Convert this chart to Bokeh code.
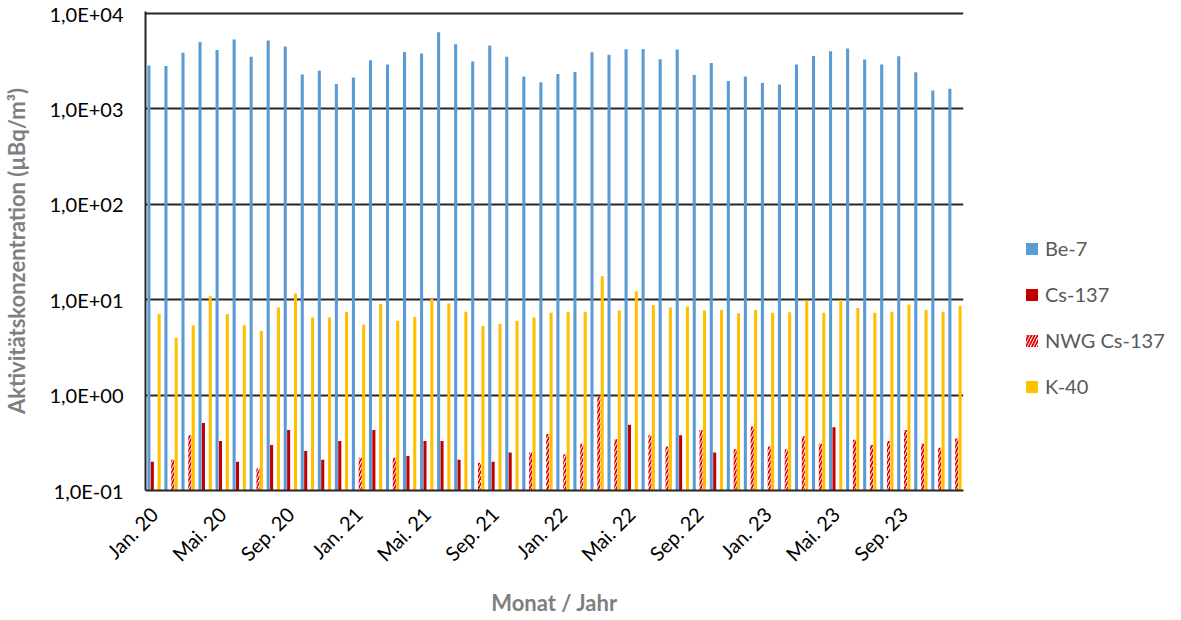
import math
from bokeh.plotting import figure
from bokeh.layouts import row
from bokeh.models import (ColumnDataSource, Legend, LegendItem, FixedTicker,
                          CustomJSTickFormatter, Range1d)
from bokeh.embed import file_html
from bokeh.resources import INLINE

# ---------------- data ----------------
tick_labels = ["Jan. 20", "Mai. 20", "Sep. 20", "Jan. 21", "Mai. 21", "Sep. 21",
               "Jan. 22", "Mai. 22", "Sep. 22", "Jan. 23", "Mai. 23", "Sep. 23"]

be7 = [2860, 2820, 3890, 5030, 4150, 5330, 3530, 5200, 4500, 2290, 2520, 1820,
       2130, 3230, 2930, 3950, 3800, 6370, 4760, 3150, 4610, 3530, 2190, 1900,
       2320, 2440, 3920, 3700, 4220, 4250, 3310, 4190, 2270, 3030, 1960, 2190,
       1870, 1800, 2930, 3590, 4020, 4290, 3290, 2930, 3560, 2420, 1560, 1630]

cs137 = [0.20, None, None, 0.51, 0.33, 0.20, None, 0.30, 0.43, 0.26, 0.21, 0.33,
         None, 0.43, None, 0.23, 0.33, 0.33, 0.21, None, 0.20, 0.25, None, None,
         None, None, None, None, 0.49, None, None, 0.38, None, 0.25, None, None,
         None, None, None, None, 0.46, None, None, None, None, None, None, None]

nwg_cs137 = [None, 0.21, 0.38, None, None, None, 0.17, None, None, None, None, None,
             0.22, None, 0.22, None, None, None, None, 0.195, None, None, 0.25, 0.39,
             0.24, 0.31, 0.97, 0.345, None, 0.38, 0.29, None, 0.43, None, 0.27, 0.47,
             0.29, 0.27, 0.37, 0.31, None, 0.34, 0.30, 0.33, 0.43, 0.31, 0.28, 0.35]

k40 = [7.1, 4.0, 5.4, 10.9, 7.1, 5.4, 4.7, 8.3, 11.6, 6.5, 6.5, 7.5,
       5.5, 9.0, 6.0, 6.6, 10.2, 9.1, 7.5, 5.3, 5.6, 6.0, 6.5, 7.3,
       7.5, 7.5, 17.6, 7.7, 12.3, 8.8, 8.3, 8.5, 7.7, 7.8, 7.2, 7.8,
       7.3, 7.4, 9.8, 7.3, 9.9, 8.2, 7.3, 7.5, 8.9, 7.8, 7.5, 8.6]

series_names = ["Be-7", "Cs-137", "NWG Cs-137", "K-40"]

# ---------------- styles ----------------
FONT = "Lato"
H = 620
W_MAIN = 970
W_LEG = 1165 - W_MAIN
BASE = 0.1
BW = 0.18
styles = [
    dict(fill_color="#5B9BD5", line_color=None),
    dict(fill_color="#C00000", line_color=None),
    dict(fill_color="white", line_color=None, hatch_pattern="/",
         hatch_color="#E00000", hatch_scale=6, hatch_weight=1.8),
    dict(fill_color="#FFC000", line_color=None),
]
offsets = [-0.3, -0.1, 0.1, 0.3]

p = figure(width=W_MAIN, height=H, y_axis_type="log", output_backend="svg",
           toolbar_location=None, x_range=Range1d(-0.5, len(be7) - 0.5),
           y_range=Range1d(0.1, 10500),
           min_border_left=145, min_border_right=W_MAIN - 963, min_border_top=11,
           min_border_bottom=H - 490)
p.outline_line_color = None
p.background_fill_color = "white"


def series(vals, off):
    xs, tops = [], []
    for i, v in enumerate(vals):
        if v is not None:
            xs.append(i + off)
            tops.append(v)
    return ColumnDataSource(dict(x=xs, top=tops, bottom=[BASE] * len(xs)))


for vals, off, st in zip([be7, cs137, nwg_cs137, k40], offsets, styles):
    p.vbar(x="x", top="top", bottom="bottom", width=BW, source=series(vals, off), **st)

# grid
p.xgrid.visible = False
p.ygrid.grid_line_color = "#262626"
p.ygrid.grid_line_width = 2
p.ygrid.level = "underlay"

# y axis
p.yaxis.ticker = FixedTicker(ticks=[0.1, 1, 10, 100, 1000, 10000])
p.yaxis.formatter = CustomJSTickFormatter(code="""
const e = Math.round(Math.log10(tick));
return "1,0E" + (e < 0 ? "-" : "+") + String(Math.abs(e)).padStart(2, "0");
""")
p.yaxis.minor_tick_line_color = None
p.yaxis.major_tick_line_color = None
p.yaxis.axis_line_color = "#262626"
p.yaxis.axis_line_width = 2
p.yaxis.major_label_text_font = FONT
p.yaxis.major_label_text_font_size = "20px"
p.yaxis.major_label_text_color = "#000000"
p.yaxis.major_label_standoff = 16
p.yaxis.axis_label = "Aktivitätskonzentration (µBq/m³)"
p.yaxis.axis_label_text_font = FONT
p.yaxis.axis_label_text_font_size = "22px"
p.yaxis.axis_label_text_font_style = "bold"
p.yaxis.axis_label_text_color = "#7F7F7F"
p.yaxis.axis_label_standoff = 16

# x axis
p.xaxis.ticker = FixedTicker(ticks=list(range(0, len(be7), 4)))
p.xaxis.major_label_overrides = {i * 4: lab for i, lab in enumerate(tick_labels)}
p.xaxis.major_label_orientation = math.pi / 4
p.xaxis.major_tick_line_color = None
p.xaxis.minor_tick_line_color = None
p.xaxis.axis_line_color = "#262626"
p.xaxis.axis_line_width = 2
p.xaxis.major_label_text_font = FONT
p.xaxis.major_label_text_font_size = "20px"
p.xaxis.major_label_text_color = "#000000"
p.xaxis.major_label_standoff = 14
p.xaxis.axis_label = "Monat / Jahr"
p.xaxis.axis_label_text_font = FONT
p.xaxis.axis_label_text_font_size = "22px"
p.xaxis.axis_label_text_font_style = "bold"
p.xaxis.axis_label_text_color = "#7F7F7F"
p.xaxis.axis_label_standoff = 12

# ---------------- legend panel ----------------
q = figure(width=W_LEG, height=H, output_backend="svg", toolbar_location=None,
           x_range=Range1d(0, 1), y_range=Range1d(0, 1), min_border=0,
           x_axis_location=None, y_axis_location=None)
q.outline_line_color = None
q.grid.visible = False
items = []
for name, st in zip(series_names, styles):
    r = q.vbar(x=[5], top=[5], bottom=[4], width=0.1, **st)  # off-range swatch source
    items.append(LegendItem(label=name, renderers=[r]))
legend = Legend(items=items, location=(1024 - W_MAIN, 92),
                label_text_font=FONT, label_text_font_size="20px",
                label_text_color="#595959", glyph_width=15, glyph_height=15,
                label_height=20, spacing=22, padding=0, margin=0,
                border_line_alpha=0, background_fill_alpha=0, label_standoff=6)
q.add_layout(legend, "center")

layout = row(p, q, spacing=0)
open("out.html", "w").write(file_html(layout, INLINE))
